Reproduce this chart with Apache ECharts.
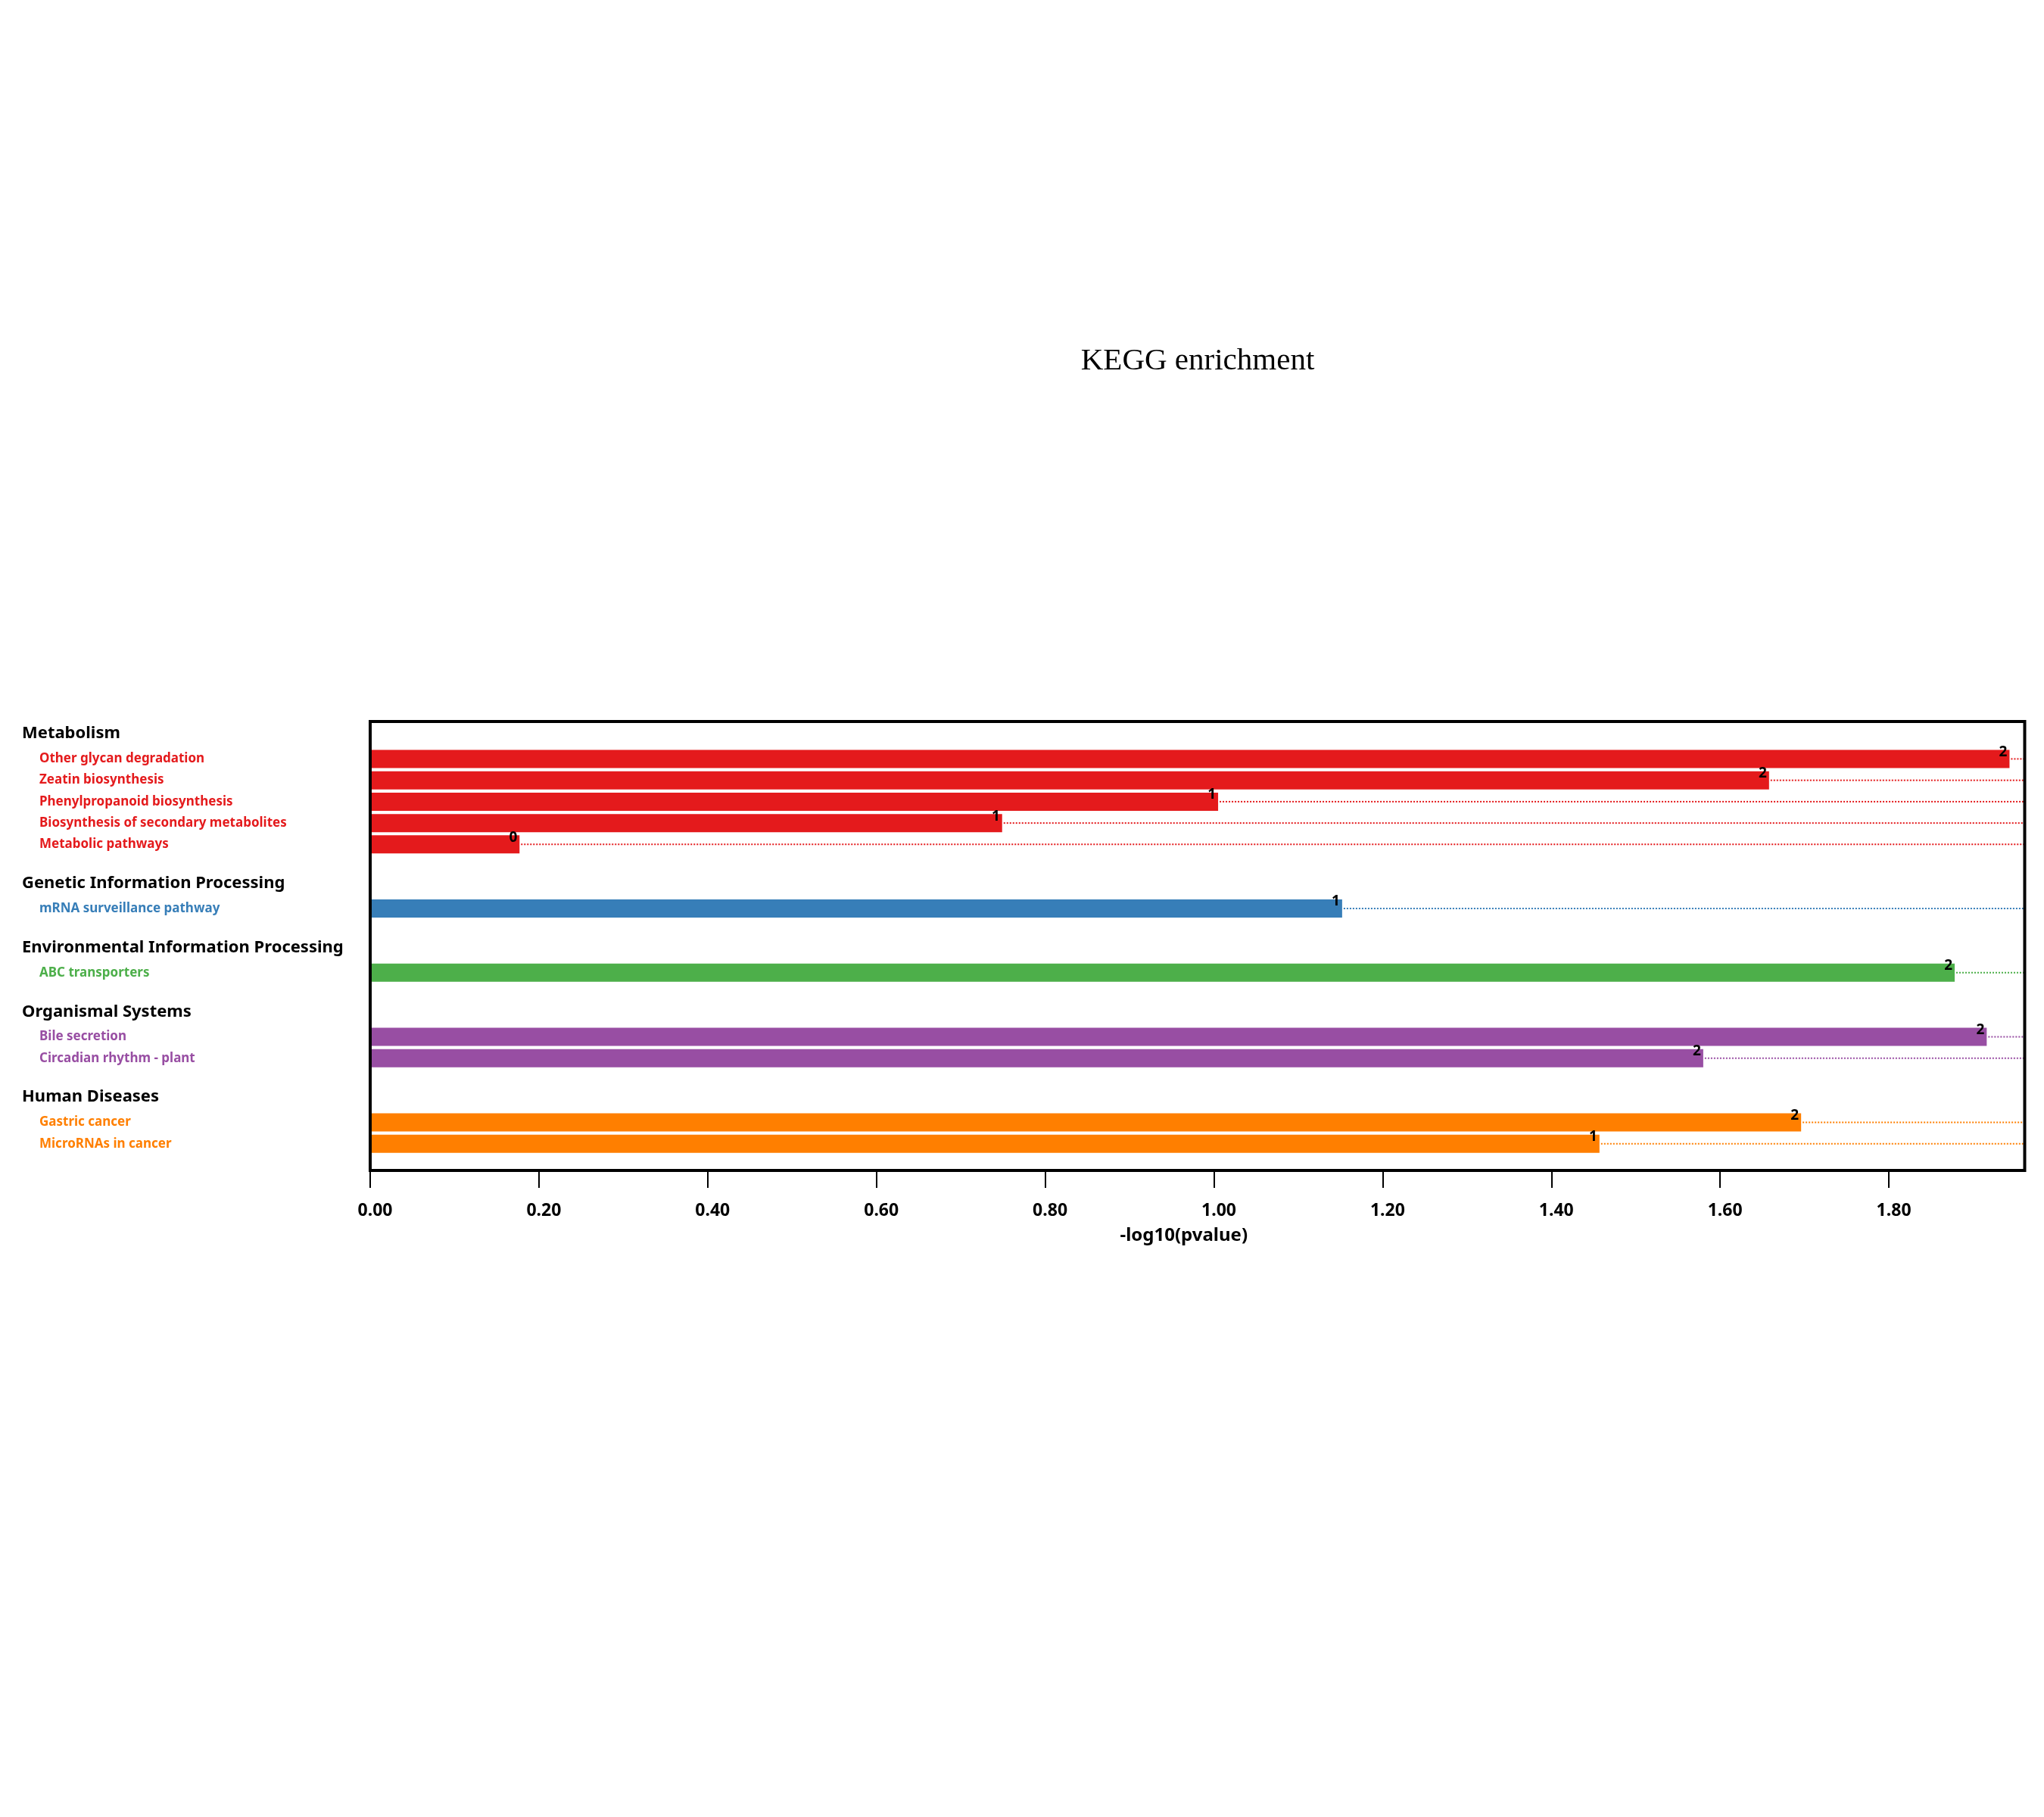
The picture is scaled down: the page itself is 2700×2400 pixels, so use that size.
<!DOCTYPE html>
<html><head><meta charset="utf-8">
<script src="https://cdn.jsdelivr.net/npm/echarts@6/dist/echarts.min.js"></script>
<style>html,body{margin:0;padding:0;background:#fff}#c{width:2700px;height:2400px}</style>
</head><body><div id="c"></div>
<script>
const groups = ['Metabolism','Genetic Information Processing','Environmental Information Processing','Organismal Systems','Human Diseases'];
const groupColors = ['#E41A1C','#377EB8','#4DAF4A','#984EA3','#FF7F00'];
const pathways = ['Other glycan degradation','Zeatin biosynthesis','Phenylpropanoid biosynthesis','Biosynthesis of secondary metabolites','Metabolic pathways','mRNA surveillance pathway','ABC transporters','Bile secretion','Circadian rhythm - plant','Gastric cancer','MicroRNAs in cancer'];
const pathwayGroup = [0,0,0,0,0,1,2,3,3,4,4];
const negLog10P = [1.943,1.658,1.005,0.749,0.177,1.152,1.878,1.916,1.580,1.696,1.457];
const geneCounts = [2,2,1,1,0,1,2,2,2,2,1];
const xTicks = [0,0.2,0.4,0.6,0.8,1.0,1.2,1.4,1.6,1.8];
const X_MAX = 1.961;

// build row layout: header row, its pathways, blank row
const headerRows = [], barRows = [], barNames = [];
let row = 0;
groups.forEach((g, gi) => {
  headerRows.push([0, row, gi]);
  row++;
  pathways.forEach((p, i) => {
    if (pathwayGroup[i] === gi) {
      barRows.push([negLog10P[i], row, geneCounts[i], gi]);
      barNames.push(p);
      row++;
    }
  });
  row++;
});
const lastBarRow = barRows[barRows.length - 1][1];

const FONT = '"Noto Sans", "Open Sans", sans-serif';
const chart = echarts.init(document.getElementById('c'), null, {renderer: 'canvas'});
chart.setOption({
  animation: false,
  backgroundColor: '#fff',
  graphic: [{
    type: 'text', x: 1582, y: 477,
    style: {text: 'KEGG enrichment', font: '41px "Liberation Serif", serif', align: 'center', verticalAlign: 'middle', fill: '#000'}
  }],
  grid: {left: 489, right: 25.5, top: 953, bottom: 854, show: true, borderColor: '#000', borderWidth: 4, backgroundColor: 'transparent', z: 10},
  xAxis: {
    type: 'value', min: 0, max: X_MAX, interval: 0.2, position: 'bottom',
    axisLine: {show: false, onZero: false},
    splitLine: {show: false},
    axisTick: {show: true, length: 23, customValues: xTicks, lineStyle: {color: '#000', width: 2}},
    axisLabel: {customValues: xTicks, formatter: v => v.toFixed(2), margin: 42, padding: [0, 0, 0, 13], color: '#000', fontWeight: 'bold', fontSize: 23, fontFamily: FONT},
    name: '-log10(pvalue)', nameLocation: 'middle', nameGap: 74,
    nameTextStyle: {color: '#000', fontWeight: 'bold', fontSize: 24, fontFamily: FONT, padding: [0, 36, 0, 0]}
  },
  yAxis: {type: 'value', inverse: true, min: -0.75, max: lastBarRow + 1.25, show: false, splitLine: {show: false}},
  series: [{
    type: 'custom', clip: false, z: 2,
    data: barRows,
    encode: {x: 0, y: 1},
    renderItem: function (params, api) {
      const v = api.value(0), r = api.value(1), cnt = api.value(2), gi = api.value(3);
      const p0 = api.coord([0, r]), p1 = api.coord([v, r]), pr = api.coord([X_MAX, r]);
      const band = Math.abs(api.size([0, 1])[1]);
      const h = band * 0.85;
      const color = groupColors[gi];
      return {type: 'group', children: [
        {type: 'line', shape: {x1: p1[0] + 2, y1: p1[1], x2: pr[0], y2: p1[1]}, style: {stroke: color, lineWidth: 2, lineDash: [2, 2]}},
        {type: 'rect', shape: {x: p0[0], y: p0[1] - h / 2, width: p1[0] - p0[0], height: h}, style: {fill: color}},
        {type: 'text', style: {text: String(cnt), x: p1[0] - 3, y: p1[1] - 9, align: 'right', verticalAlign: 'middle', font: 'bold 19px ' + FONT, fill: '#000'}},
        {type: 'text', style: {text: barNames[params.dataIndex], x: 52, y: p1[1], align: 'left', verticalAlign: 'middle', font: 'bold 17px ' + FONT, fill: color}}
      ]};
    }
  }, {
    type: 'custom', clip: false, z: 2,
    data: headerRows,
    encode: {x: 0, y: 1},
    renderItem: function (params, api) {
      const p = api.coord([0, api.value(1)]);
      return {type: 'text', style: {text: groups[api.value(2)], x: 29, y: p[1] - 5, align: 'left', verticalAlign: 'middle', font: 'bold 22px ' + FONT, fill: '#000'}};
    }
  }]
});
</script></body></html>
